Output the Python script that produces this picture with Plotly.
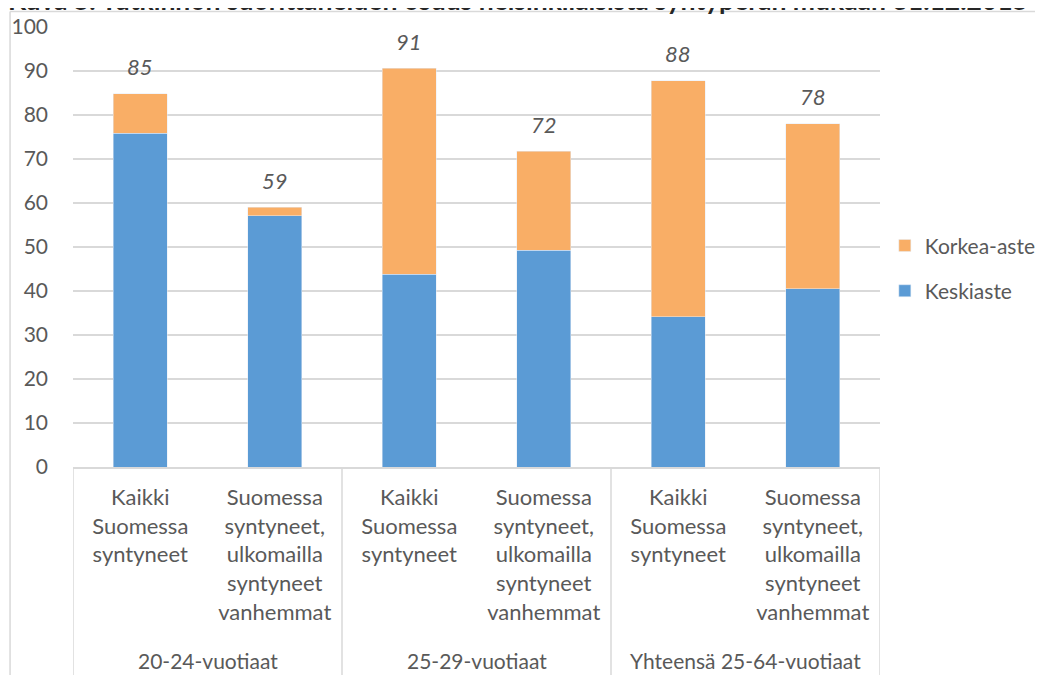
import plotly.graph_objects as go

# Kuva 5 — share of degree holders by origin, Helsinki 31.12.2015
CATEGORIES = [
    "Kaikki<br>Suomessa<br>syntyneet",
    "Suomessa<br>syntyneet,<br>ulkomailla<br>syntyneet<br>vanhemmat",
    "Kaikki<br>Suomessa<br>syntyneet",
    "Suomessa<br>syntyneet,<br>ulkomailla<br>syntyneet<br>vanhemmat",
    "Kaikki<br>Suomessa<br>syntyneet",
    "Suomessa<br>syntyneet,<br>ulkomailla<br>syntyneet<br>vanhemmat",
]
GROUPS = ["20-24-vuotiaat", "25-29-vuotiaat", "Yhteensä 25-64-vuotiaat"]
KESKIASTE = [75.9, 57.1, 43.8, 49.3, 34.2, 40.5]
KORKEA_ASTE = [8.9, 1.9, 46.8, 22.5, 53.6, 37.5]
TOTAL_LABELS = ["85", "59", "91", "72", "88", "78"]
TITLE = "Kuva 5. Tutkinnon suorittaneiden osuus helsinkiläisistä syntyperän mukaan 31.12.2015"

BLUE = "#5B9BD5"
ORANGE = "#F9AE66"
GRID = "#D9D9D9"
TEXT = "#595959"
FONT = "Lato, 'Open Sans', sans-serif"

# the page body keeps its default 8px margin, so the figure is 8px smaller
W, H = 1035, 667

xs = list(range(len(CATEGORIES)))

fig = go.Figure()
fig.add_trace(go.Bar(
    x=xs, y=KESKIASTE, name="Keskiaste", marker_color=BLUE,
    width=0.4, legendgroup="a", legendrank=2,
))
fig.add_trace(go.Bar(
    x=xs, y=KORKEA_ASTE, name="Korkea-aste", marker_color=ORANGE,
    width=0.4, legendgroup="b", legendrank=1,
))

# total labels above the stacks
for x, lo, hi, lab in zip(xs, KESKIASTE, KORKEA_ASTE, TOTAL_LABELS):
    fig.add_annotation(
        x=x, y=lo + hi, text=f"<i>{lab}</i>", showarrow=False,
        yanchor="middle", yshift=27,
        font=dict(family=FONT, size=22, color=TEXT),
    )

# group labels under the category labels
for i, g in enumerate(GROUPS):
    fig.add_annotation(
        x=2 * i + 0.5, y=-0.439, xref="x", yref="paper", text=g,
        showarrow=False, yanchor="middle",
        font=dict(family=FONT, size=21, color=TEXT),
    )

# title, half cut off by the top edge as in the original
fig.add_annotation(
    x=0.551, y=1.061, xref="paper", yref="paper", text=f"<b>{TITLE}</b>",
    showarrow=False, xanchor="center", yanchor="middle",
    font=dict(family=FONT, size=26.5, color="#262626"),
)

# table dividers of the category axis
for xv in [-0.5, 1.5, 3.5, 5.5]:
    fig.add_shape(type="line", xref="x", yref="paper", x0=xv, x1=xv,
                  y0=0, y1=-0.6, line=dict(color=GRID, width=1.5))

# outer chart border (partly cut off in the original)
fig.add_shape(type="line", xref="paper", yref="paper", x0=-0.078, x1=1.3,
              y0=1.0352, y1=1.0352, line=dict(color=GRID, width=1.5))
fig.add_shape(type="line", xref="paper", yref="paper", x0=-0.078, x1=-0.078,
              y0=1.0352, y1=-0.6, line=dict(color=GRID, width=1.5))

fig.update_layout(
    width=W, height=H,
    barmode="stack", bargap=0.6,
    paper_bgcolor="white", plot_bgcolor="white",
    font=dict(family=FONT, color=TEXT, size=21),
    margin=dict(l=65, r=163, t=19, b=208, autoexpand=False),
    legend=dict(
        x=1.006, xanchor="left", y=0.4516, yanchor="middle",
        tracegroupgap=15, traceorder="grouped",
        font=dict(family=FONT, size=21, color=TEXT),
        bgcolor="rgba(0,0,0,0)",
    ),
    showlegend=True,
)
fig.update_xaxes(
    range=[-0.5, 5.5], tickvals=xs, ticktext=CATEGORIES,
    showgrid=False, zeroline=False, showline=True, linecolor=GRID, linewidth=1.5,
    ticks="", ticklabelstandoff=10, tickangle=0, automargin=False,
    tickfont=dict(family=FONT, size=22, color=TEXT),
)
fig.update_yaxes(
    range=[0, 100], dtick=10, showgrid=True, gridcolor=GRID, gridwidth=1.5,
    zeroline=False, showline=False, ticks="", ticklabelstandoff=24, automargin=False,
    tickfont=dict(family=FONT, size=21, color=TEXT),
)

fig.write_html("out.html")
